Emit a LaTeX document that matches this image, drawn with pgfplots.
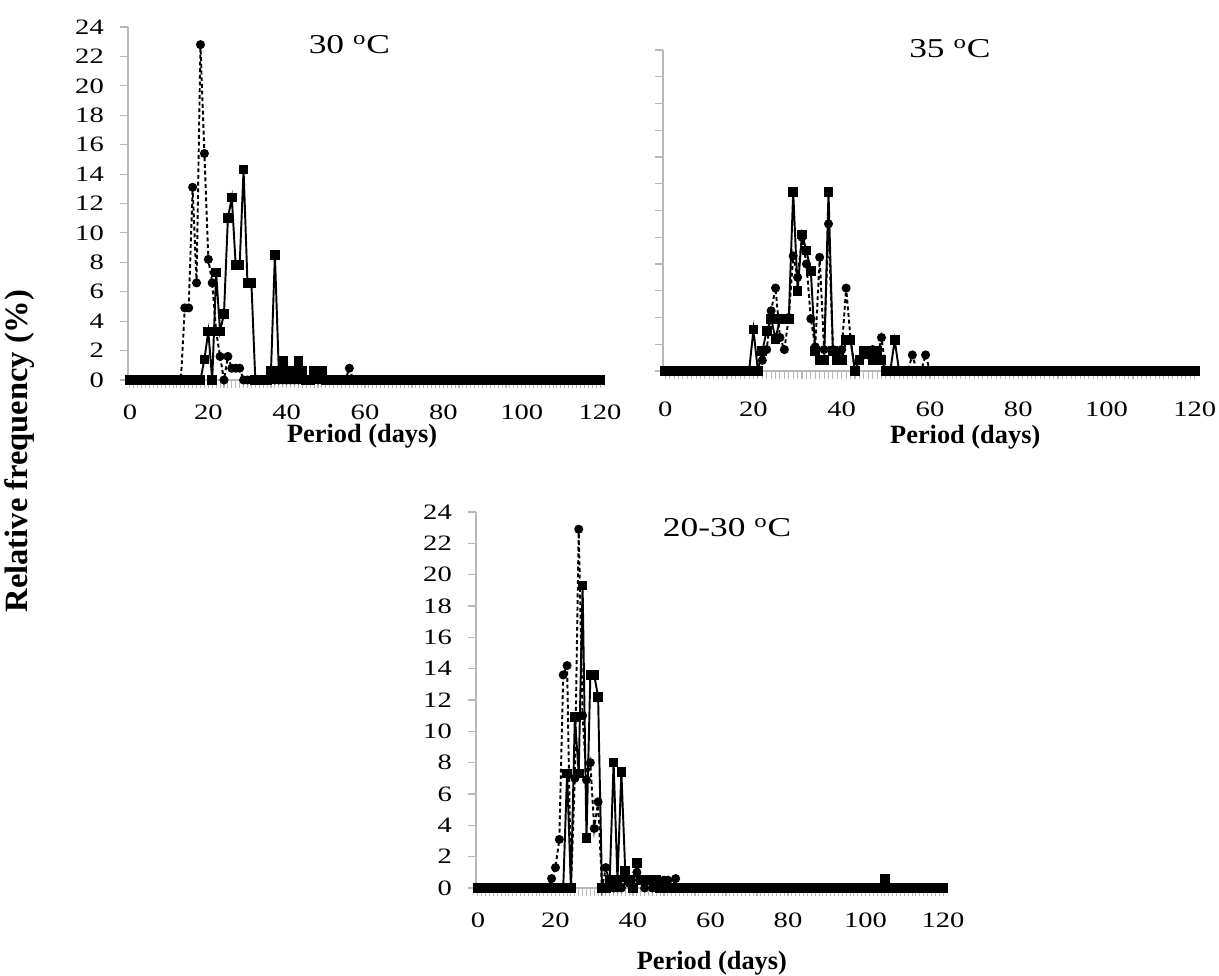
\documentclass[border=0pt]{standalone}
\usepackage{fontspec}
\setmainfont{Liberation Serif}
\newfontfamily\widefont{Liberation Serif}[FakeStretch=1.3]
\usepackage{pgfplots}
\usepackage{pgfplotstable}
\pgfplotsset{compat=1.18}

%% day, solid series (squares), dashed series (circles)
\pgfplotstableread[row sep=\\]{
d s c\\
0 0 0\\ 1 0 0\\ 2 0 0\\ 3 0 0\\ 4 0 0\\ 5 0 0\\ 6 0 0\\ 7 0 0\\ 8 0 0\\ 9 0 0\\
10 0 0\\ 11 0 0\\ 12 0 0\\ 13 0 0\\ 14 0 4.9\\ 15 0 4.9\\ 16 0 13.1\\ 17 0 6.6\\ 18 0 22.8\\ 19 1.4 15.4\\
20 3.3 8.2\\ 21 0 6.6\\ 22 7.3 3.3\\ 23 3.3 1.6\\ 24 4.5 0\\ 25 11.0 1.6\\ 26 12.4 0.8\\ 27 7.8 0.8\\ 28 7.8 0.8\\ 29 14.3 0\\
30 6.6 0\\ 31 6.6 0\\ 32 0 0\\ 33 0 0\\ 34 0 0\\ 35 0 0\\ 36 0.6 0\\ 37 8.5 0\\ 38 0.6 0\\ 39 1.3 0\\
40 0.6 0\\ 41 0.6 0\\ 42 0.6 0\\ 43 1.3 0\\ 44 0.6 0\\ 45 0 0\\ 46 0 0\\ 47 0.6 0\\ 48 0.6 0\\ 49 0.6 0\\
50 0 0\\ 51 0 0\\ 52 0 0\\ 53 0 0\\ 54 0 0\\ 55 0 0\\ 56 0 0.8\\ 57 0 0\\ 58 0 0\\ 59 0 0\\
60 0 0\\ 61 0 0\\ 62 0 0\\ 63 0 0\\ 64 0 0\\ 65 0 0\\ 66 0 0\\ 67 0 0\\ 68 0 0\\ 69 0 0\\
70 0 0\\ 71 0 0\\ 72 0 0\\ 73 0 0\\ 74 0 0\\ 75 0 0\\ 76 0 0\\ 77 0 0\\ 78 0 0\\ 79 0 0\\
80 0 0\\ 81 0 0\\ 82 0 0\\ 83 0 0\\ 84 0 0\\ 85 0 0\\ 86 0 0\\ 87 0 0\\ 88 0 0\\ 89 0 0\\
90 0 0\\ 91 0 0\\ 92 0 0\\ 93 0 0\\ 94 0 0\\ 95 0 0\\ 96 0 0\\ 97 0 0\\ 98 0 0\\ 99 0 0\\
100 0 0\\ 101 0 0\\ 102 0 0\\ 103 0 0\\ 104 0 0\\ 105 0 0\\ 106 0 0\\ 107 0 0\\ 108 0 0\\ 109 0 0\\
110 0 0\\ 111 0 0\\ 112 0 0\\ 113 0 0\\ 114 0 0\\ 115 0 0\\ 116 0 0\\ 117 0 0\\ 118 0 0\\ 119 0 0\\ 120 0 0\\
}\tthirty

\pgfplotstableread[row sep=\\]{
d s c\\
0 0 0\\ 1 0 0\\ 2 0 0\\ 3 0 0\\ 4 0 0\\ 5 0 0\\ 6 0 0\\ 7 0 0\\ 8 0 0\\ 9 0 0\\
10 0 0\\ 11 0 0\\ 12 0 0\\ 13 0 0\\ 14 0 0\\ 15 0 0\\ 16 0 0\\ 17 0 0\\ 18 0 0\\ 19 0 0\\
20 3.1 0\\ 21 0 0\\ 22 1.5 0.8\\ 23 3.0 1.6\\ 24 3.9 4.5\\ 25 2.4 6.2\\ 26 3.9 2.5\\ 27 3.9 1.6\\ 28 3.9 4.0\\ 29 13.4 8.6\\
30 6.0 7.0\\ 31 10.2 10.0\\ 32 9.0 8.0\\ 33 7.5 3.9\\ 34 1.5 1.8\\ 35 0.8 8.5\\ 36 0.8 1.6\\ 37 13.4 11.0\\ 38 1.5 1.6\\ 39 0.8 1.2\\
40 0.8 1.6\\ 41 2.3 6.2\\ 42 2.3 2.4\\ 43 0 0\\ 44 0.8 0.8\\ 45 1.5 1.2\\ 46 1.5 1.2\\ 47 0.8 1.6\\ 48 1.5 0.8\\ 49 0.8 2.5\\
50 0 0\\ 51 0 0\\ 52 2.3 0\\ 53 0 0\\ 54 0 0\\ 55 0 0\\ 56 0 1.2\\ 57 0 0\\ 58 0 0\\ 59 0 1.2\\
60 0 0\\ 61 0 0\\ 62 0 0\\ 63 0 0\\ 64 0 0\\ 65 0 0\\ 66 0 0\\ 67 0 0\\ 68 0 0\\ 69 0 0\\
70 0 0\\ 71 0 0\\ 72 0 0\\ 73 0 0\\ 74 0 0\\ 75 0 0\\ 76 0 0\\ 77 0 0\\ 78 0 0\\ 79 0 0\\
80 0 0\\ 81 0 0\\ 82 0 0\\ 83 0 0\\ 84 0 0\\ 85 0 0\\ 86 0 0\\ 87 0 0\\ 88 0 0\\ 89 0 0\\
90 0 0\\ 91 0 0\\ 92 0 0\\ 93 0 0\\ 94 0 0\\ 95 0 0\\ 96 0 0\\ 97 0 0\\ 98 0 0\\ 99 0 0\\
100 0 0\\ 101 0 0\\ 102 0 0\\ 103 0 0\\ 104 0 0\\ 105 0 0\\ 106 0 0\\ 107 0 0\\ 108 0 0\\ 109 0 0\\
110 0 0\\ 111 0 0\\ 112 0 0\\ 113 0 0\\ 114 0 0\\ 115 0 0\\ 116 0 0\\ 117 0 0\\ 118 0 0\\ 119 0 0\\ 120 0 0\\
}\tthirtyfive

\pgfplotstableread[row sep=\\]{
d s c\\
0 0 0\\ 1 0 0\\ 2 0 0\\ 3 0 0\\ 4 0 0\\ 5 0 0\\ 6 0 0\\ 7 0 0\\ 8 0 0\\ 9 0 0\\
10 0 0\\ 11 0 0\\ 12 0 0\\ 13 0 0\\ 14 0 0\\ 15 0 0\\ 16 0 0\\ 17 0 0\\ 18 0 0\\ 19 0 0.6\\
20 0 1.3\\ 21 0 3.1\\ 22 0 13.6\\ 23 7.3 14.2\\ 24 0 0\\ 25 10.9 7.0\\ 26 7.3 22.9\\ 27 19.3 11.0\\ 28 3.2 6.9\\ 29 13.6 8.0\\
30 13.6 3.8\\ 31 12.2 5.5\\ 32 0 0\\ 33 0 1.3\\ 34 0.5 0.3\\ 35 8.0 0\\ 36 0.5 0\\ 37 7.4 0\\ 38 1.1 0.6\\ 39 0.5 0.3\\
40 0 0\\ 41 1.6 1.0\\ 42 0.5 0.5\\ 43 0.5 0\\ 44 0.5 0.5\\ 45 0.5 0\\ 46 0.5 0.5\\ 47 0 0\\ 48 0 0.5\\ 49 0 0.5\\
50 0 0\\ 51 0 0.6\\ 52 0 0\\ 53 0 0\\ 54 0 0\\ 55 0 0\\ 56 0 0\\ 57 0 0\\ 58 0 0\\ 59 0 0\\
60 0 0\\ 61 0 0\\ 62 0 0\\ 63 0 0\\ 64 0 0\\ 65 0 0\\ 66 0 0\\ 67 0 0\\ 68 0 0\\ 69 0 0\\
70 0 0\\ 71 0 0\\ 72 0 0\\ 73 0 0\\ 74 0 0\\ 75 0 0\\ 76 0 0\\ 77 0 0\\ 78 0 0\\ 79 0 0\\
80 0 0\\ 81 0 0\\ 82 0 0\\ 83 0 0\\ 84 0 0\\ 85 0 0\\ 86 0 0\\ 87 0 0\\ 88 0 0\\ 89 0 0\\
90 0 0\\ 91 0 0\\ 92 0 0\\ 93 0 0\\ 94 0 0\\ 95 0 0\\ 96 0 0\\ 97 0 0\\ 98 0 0\\ 99 0 0\\
100 0 0\\ 101 0 0\\ 102 0 0\\ 103 0 0\\ 104 0 0\\ 105 0.6 0\\ 106 0 0\\ 107 0 0\\ 108 0 0\\ 109 0 0\\
110 0 0\\ 111 0 0\\ 112 0 0\\ 113 0 0\\ 114 0 0\\ 115 0 0\\ 116 0 0\\ 117 0 0\\ 118 0 0\\ 119 0 0\\ 120 0 0\\
}\ttwentythirty

\newcommand\tk{\widefont\fontsize{12.5}{13}\selectfont}
\newcommand\ttl{\widefont\fontsize{15.5}{17}\selectfont}

\pgfplotsset{
  panel/.style={
    scale only axis, anchor=south west, clip=false,
    xmin=-0.5, xmax=120.5, ymin=0, ymax=24,
    axis lines*=left,
    axis line style={draw=black!28, line width=0.9pt},
    xtick={0,20,...,120}, minor x tick num=19,
    ytick={0,2,...,24},
    tick align=outside,
    major tick length=0.16cm, minor tick length=0.16cm,
    tick style={draw=black!28, line width=0.6pt},
    tick label style={font=\tk},
    xticklabel style={yshift=-0.22cm},
    yticklabel style={xshift=-0.2cm},
    /pgf/number format/assume math mode=true,
    xlabel style={font=\bfseries\fontsize{15}{17}\selectfont, anchor=center},
  },
  sol/.style={black, line width=1.1pt, mark=square*, mark size=2.2pt,
    mark options={solid, fill=black}},
  dsh/.style={black, line width=1.1pt, dash pattern=on 2.2pt off 1.6pt,
    mark=*, mark size=2pt, mark options={solid, fill=black}},
}

\begin{document}
\begin{tikzpicture}
\useasboundingbox (0,0) rectangle (24.38,19.52);

% 30 C
\begin{axis}[panel, at={(2.56cm,11.92cm)}, width=9.48cm, height=7.06cm,
  xlabel={Period (days)},
  xlabel style={at={(axis description cs:0.494,-0.16)}}]
\addplot[dsh] table[x=d, y=c] {\tthirty};
\addplot[sol] table[x=d, y=s] {\tthirty};
\node[font=\ttl] at (axis cs:56,22.8) {30 \textsuperscript{o}C};
\end{axis}

% 35 C
\begin{axis}[panel, at={(13.26cm,12.10cm)}, width=10.68cm, height=6.42cm,
  yticklabels={},
  xticklabel style={yshift=-0.12cm},
  xlabel={Period (days)},
  xlabel style={at={(axis description cs:0.566,-0.207)}}]
\addplot[dsh] table[x=d, y=c] {\tthirtyfive};
\addplot[sol] table[x=d, y=s] {\tthirtyfive};
\node[font=\ttl] at (axis cs:64.5,24.1) {35 \textsuperscript{o}C};
\end{axis}

% 20-30 C
\begin{axis}[panel, at={(9.52cm,1.76cm)}, width=9.38cm, height=7.52cm,
  xlabel={Period (days)},
  xlabel style={at={(axis description cs:0.503,-0.2)}}]
\addplot[dsh] table[x=d, y=c] {\ttwentythirty};
\addplot[sol] table[x=d, y=s] {\ttwentythirty};
\node[font=\ttl] at (axis cs:64.3,23) {20-30 \textsuperscript{o}C};
\end{axis}

\node[rotate=90, font=\bfseries\fontsize{18.5}{20}\selectfont] at (0.4,10.5) {Relative frequency (\%)};
\end{tikzpicture}
\end{document}
